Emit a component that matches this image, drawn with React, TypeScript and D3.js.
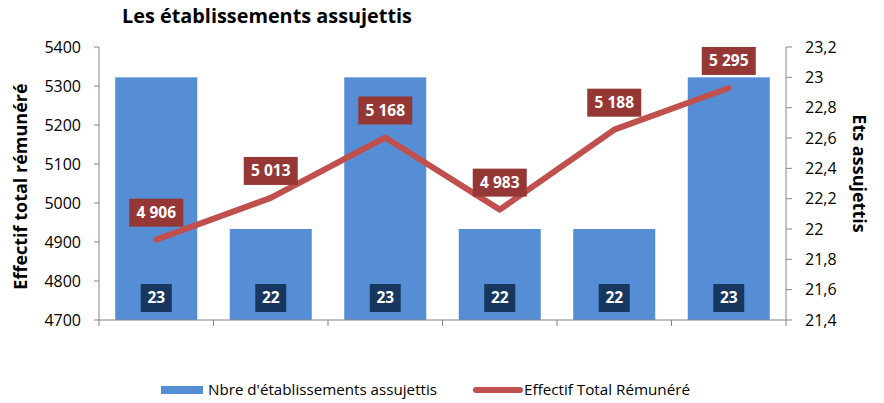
import React from "react";
import * as d3 from "d3";

const categories = ["A", "B", "C", "D", "E", "F"];
const etsValues = [23, 22, 23, 22, 22, 23];
const effectifValues = [4906, 5013, 5168, 4983, 5188, 5295];
const leftTicks = [4700, 4800, 4900, 5000, 5100, 5200, 5300, 5400];
const rightTicks = [21.4, 21.6, 21.8, 22, 22.2, 22.4, 22.6, 22.8, 23, 23.2];

const W = 884;
const H = 403;
const FONT = "'Open Sans', 'DejaVu Sans', sans-serif";

export default function App() {
  const x0 = 99, x1 = 786, yTop = 47, yBot = 320;
  const x = d3.scaleBand<string>().domain(categories).range([x0, x1]).paddingInner(0.284).paddingOuter(0.142);
  const yL = d3.scaleLinear().domain([4700, 5400]).range([yBot, yTop]);
  const yR = d3.scaleLinear().domain([21.4, 23.2]).range([yBot, yTop]);
  const step = (x1 - x0) / categories.length;
  const cx = (c: string) => (x(c) as number) + x.bandwidth() / 2;
  const line = d3.line<number>().x((_, i) => cx(categories[i])).y((v) => yL(v));
  const fmtFr = (v: number) => d3.format(",")(v).replace(/,/g, " ");
  const fmtR = (v: number) => d3.format("~g")(+v.toFixed(1)).replace(".", ",");
  const axisColor = "#868686";

  return (
    <svg width={W} height={H} style={{ position: "absolute", left: 0, top: 0 }} fontFamily={FONT}>
      <rect width={W} height={H} fill="#fff" />
      <text x={122} y={23} fontSize={19.5} fontWeight="bold" fill="#000" textLength={290} lengthAdjust="spacingAndGlyphs">Les établissements assujettis</text>

      {/* bars */}
      {categories.map((c, i) => (
        <rect key={c} x={x(c)} y={yR(etsValues[i])} width={x.bandwidth()} height={yBot - yR(etsValues[i])} fill="#558ED5" />
      ))}

      {/* left axis */}
      <line x1={x0} x2={x0} y1={yTop} y2={yBot} stroke={axisColor} />
      {leftTicks.map((t) => (
        <g key={t}>
          <line x1={x0 - 5} x2={x0} y1={yL(t)} y2={yL(t)} stroke={axisColor} />
          <text x={81} y={yL(t)} dy="0.35em" textAnchor="end" fontSize={16} fill="#000">{t}</text>
        </g>
      ))}
      {/* right axis */}
      <line x1={x1} x2={x1} y1={yTop} y2={yBot} stroke={axisColor} />
      {rightTicks.map((t) => (
        <g key={t}>
          <line x1={x1} x2={x1 + 6} y1={yR(t)} y2={yR(t)} stroke={axisColor} />
          <text x={805} y={yR(t)} dy="0.35em" textAnchor="start" fontSize={16} fill="#000">{fmtR(t)}</text>
        </g>
      ))}
      {/* bottom axis */}
      <line x1={x0} x2={x1} y1={yBot} y2={yBot} stroke={axisColor} />
      {d3.range(categories.length + 1).map((i) => (
        <line key={i} x1={x0 + i * step} x2={x0 + i * step} y1={yBot} y2={yBot + 6} stroke={axisColor} />
      ))}

      {/* line */}
      <path d={line(effectifValues) || ""} fill="none" stroke="#C0504D" strokeWidth={6} strokeLinecap="round" strokeLinejoin="round" />

      {/* bar labels */}
      {categories.map((c, i) => (
        <g key={"bl" + c} transform={`translate(${cx(c)},${yBot - 22})`}>
          <rect x={-15.5} y={-14} width={31} height={28} fill="#17375E" />
          <text textAnchor="middle" dy="0.35em" fontSize={15.5} fontWeight="bold" fill="#fff">{etsValues[i]}</text>
        </g>
      ))}
      {/* line labels */}
      {categories.map((c, i) => (
        <g key={"ll" + c} transform={`translate(${cx(c)},${yL(effectifValues[i]) - 27})`}>
          <rect x={-27} y={-14} width={54} height={28} fill="#953735" />
          <text textAnchor="middle" dy="0.35em" fontSize={15.5} fontWeight="bold" fill="#fff">{fmtFr(effectifValues[i])}</text>
        </g>
      ))}

      {/* axis titles */}
      <text transform={`translate(27,${(yTop + yBot) / 2 + 3}) rotate(-90)`} textAnchor="middle" fontSize={18} fontWeight="bold" fill="#000">Effectif total rémunéré</text>
      <text transform={`translate(853,${(yTop + yBot) / 2 - 10}) rotate(90)`} textAnchor="middle" fontSize={18} fontWeight="bold" fill="#000">Ets assujettis</text>

      {/* legend */}
      <rect x={161} y={386} width={42} height={8} fill="#558ED5" />
      <text x={208} y={390} dy="0.35em" fontSize={15} fill="#000" textLength={229} lengthAdjust="spacingAndGlyphs">Nbre d'établissements assujettis</text>
      <line x1={476} x2={520} y1={390} y2={390} stroke="#C0504D" strokeWidth={6} strokeLinecap="round" />
      <text x={524} y={390} dy="0.35em" fontSize={15} fill="#000" textLength={166} lengthAdjust="spacingAndGlyphs">Effectif Total Rémunéré</text>
    </svg>
  );
}
